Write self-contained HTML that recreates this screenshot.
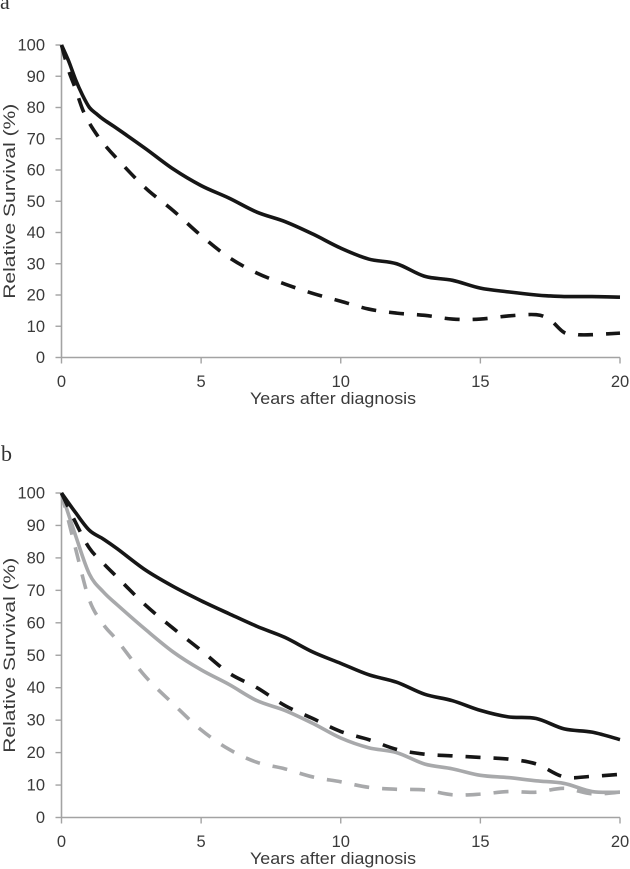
<!DOCTYPE html>
<html>
<head>
<meta charset="utf-8">
<style>
html,body{margin:0;padding:0;background:#fff;}
#root{display:block;width:630px;height:869px;}
text{font-family:"Liberation Sans",sans-serif;fill:#3a3a3a;}
.panel-letter{font-family:"Liberation Serif",serif;font-size:22px;fill:#333;}
</style>
</head>
<body>
<svg id="root" xmlns="http://www.w3.org/2000/svg" width="630" height="869" viewBox="0 0 630 869">
  <defs><filter id="soft" x="-5%" y="-5%" width="110%" height="110%"><feGaussianBlur stdDeviation="0.3"/></filter></defs>
  <text class="panel-letter" x="0" y="9">a</text>
  <text class="panel-letter" x="1" y="461">b</text>
  <g id="chartA"></g>
  <g id="chartB"></g>
</svg>
<script>
const yTicks = [0,10,20,30,40,50,60,70,80,90,100];
const xTicks = [0,5,10,15,20];
const xTitle = "Years after diagnosis";
const yTitle = "Relative Survival (%)";

const yearsA = [0,0.25,0.5,0.75,1,1.25,1.5,2,3,4,5,6,7,8,9,10,11,12,13,14,15,16,17,17.5,18,18.5,19,20];
const aSolid = [100,95,89,84,80,78,76.2,73.2,66.9,60.3,55,51,46.5,43.5,39.5,35,31.5,30,26,24.7,22.2,21,20,19.7,19.5,19.5,19.5,19.3];
const aDashed = [100,92,86,79.5,75,71.5,68.5,63.5,54.3,47,39,32,27,23.5,20.5,18,15.5,14.2,13.5,12.3,12.3,13.3,13.7,12,8,7.3,7.3,7.8];

const yearsB = [0,0.5,1,1.5,2,3,4,5,6,7,8,9,10,11,12,13,14,15,16,17,18,19,20];
const bBlackSolid = [100,94,88.5,85.8,82.8,76.3,71.2,66.8,62.8,58.9,55.5,51,47.5,44,41.7,38,36,33,31,30.5,27.3,26.3,24];
const bBlackDashed = [100,91,83,78.3,74,65.5,58.3,51.5,44.5,40,34.5,30.5,26.5,24,21,19.5,19,18.5,18,16.5,12.5,12.7,13.3];
const bGreySolid = [100,87,75,69.5,65.5,58,51,45.5,41,36,33,29,24.5,21.5,20,16.5,15,13,12.3,11.3,10.5,8,7.8];
const bGreyDashed = [100,83,67,59.5,54.5,43.5,35,27,21,17,15,12.5,11,9.3,8.7,8.5,7,7.2,8,7.8,9,7.3,7.8];

const NS = "http://www.w3.org/2000/svg";
const AXIS_COLOR = "#a3a3a3";
const BLACK = "#141414";
const GREY = "#a8a9ab";

function make(tag, attrs, parent) {
  const el = document.createElementNS(NS, tag);
  for (const k in attrs) el.setAttribute(k, attrs[k]);
  parent.appendChild(el);
  return el;
}

function smoothPath(xs, ys) {
  let d = "M" + xs[0].toFixed(2) + " " + ys[0].toFixed(2);
  for (let i = 0; i < xs.length - 1; i++) {
    const i0 = Math.max(i - 1, 0), i3 = Math.min(i + 2, xs.length - 1);
    const c1x = xs[i] + (xs[i + 1] - xs[i0]) / 6, c1y = ys[i] + (ys[i + 1] - ys[i0]) / 6;
    const c2x = xs[i + 1] - (xs[i3] - xs[i]) / 6, c2y = ys[i + 1] - (ys[i3] - ys[i]) / 6;
    d += "C" + c1x.toFixed(2) + " " + c1y.toFixed(2) + " " + c2x.toFixed(2) + " " + c2y.toFixed(2) + " " + xs[i + 1].toFixed(2) + " " + ys[i + 1].toFixed(2);
  }
  return d;
}

function drawChart(root, cfg) {
  const sx = v => 61.5 + (v / 20) * 558.5;
  const sy = v => cfg.y0 - (v / 100) * (cfg.y0 - cfg.y100);

  const yAxis = make("line", {x1: sx(0), x2: sx(0), y1: sy(0), y2: sy(100), stroke: AXIS_COLOR, "stroke-width": 1.6}, root);
  
  
  const xAxis = make("line", {x1: sx(0), x2: sx(20), y1: sy(0), y2: sy(0), stroke: AXIS_COLOR, "stroke-width": 1.6}, root);
  
  

  yTicks.forEach(t => {
    const tick = make("line", {x1: sx(0) - 6, x2: sx(0), y1: sy(t), y2: sy(t), stroke: AXIS_COLOR, "stroke-width": 1.4}, root);
    
    
    const label = make("text", {x: 45, y: sy(t) + 5.5, "text-anchor": "end", "font-size": 16.5}, root);
    label.textContent = t;
    
    
  });
  xTicks.forEach(t => {
    const tick = make("line", {x1: sx(t), x2: sx(t), y1: sy(0), y2: sy(0) + 6, stroke: AXIS_COLOR, "stroke-width": 1.4}, root);
    
    
    const label = make("text", {x: sx(t), y: cfg.xLabelY, "text-anchor": "middle", "font-size": 16.5}, root);
    label.textContent = t;
    
    
  });

  const xt = make("text", {x: 333, y: cfg.xTitleY, "text-anchor": "middle", "font-size": 17, textLength: 166, lengthAdjust: "spacingAndGlyphs"}, root);
  xt.textContent = xTitle;
  
  
  const yc = (cfg.y0 + cfg.y100) / 2;
  const yt = make("text", {x: 0, y: 0, transform: "translate(15 " + yc + ") rotate(-90)", "text-anchor": "middle", "font-size": 17, textLength: 195, lengthAdjust: "spacingAndGlyphs"}, root);
  yt.textContent = yTitle;
  
  

  cfg.series.forEach(s => {
    const path = make("path", {
      d: smoothPath(cfg.years.map(sx), s.values.map(sy)),
      fill: "none", stroke: s.color, "stroke-width": 3.6,
      "stroke-linejoin": "round", filter: "url(#soft)"
    }, root);
    if (s.dashed) path.setAttribute("stroke-dasharray", "15 13");
    
    
  });
}

drawChart(document.getElementById("chartA"), {
  y100: 45, y0: 357.5, xLabelY: 387, xTitleY: 404, years: yearsA,
  series: [
    {name: "series-a-dashed", values: aDashed, color: BLACK, dashed: true},
    {name: "series-a-solid", values: aSolid, color: BLACK, dashed: false}
  ]
});
drawChart(document.getElementById("chartB"), {
  y100: 493, y0: 817.5, xLabelY: 847, xTitleY: 864, years: yearsB,
  series: [
    {name: "series-b-grey-dashed", values: bGreyDashed, color: GREY, dashed: true},
    {name: "series-b-grey-solid", values: bGreySolid, color: GREY, dashed: false},
    {name: "series-b-black-dashed", values: bBlackDashed, color: BLACK, dashed: true},
    {name: "series-b-black-solid", values: bBlackSolid, color: BLACK, dashed: false}
  ]
});
</script>
</body>
</html>
